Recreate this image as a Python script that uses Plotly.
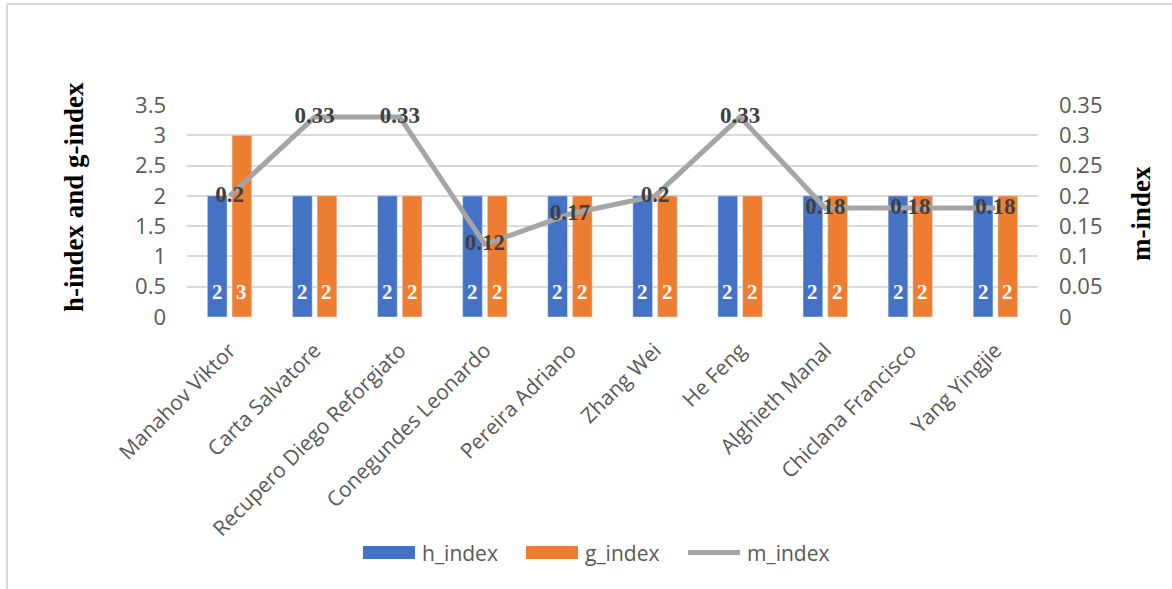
import plotly.graph_objects as go

authors = [
    "Manahov Viktor", "Carta Salvatore", "Recupero Diego Reforgiato",
    "Conegundes Leonardo", "Pereira Adriano", "Zhang Wei", "He Feng",
    "Alghieth Manal", "Chiclana Francisco", "Yang Yingjie",
]
h_index = [2, 2, 2, 2, 2, 2, 2, 2, 2, 2]
g_index = [3, 2, 2, 2, 2, 2, 2, 2, 2, 2]
m_index = [0.2, 0.33, 0.33, 0.12, 0.17, 0.2, 0.33, 0.18, 0.18, 0.18]

W, H = 1172, 589
L, R, T, B = 187, 134, 105, 272
px_w = W - L - R
px_h = H - T - B

BLUE = "#4472C4"
ORANGE = "#ED7D31"
GRAY = "#A5A5A5"
TICK = "#595959"
SERIF = "Liberation Serif, Times New Roman, serif"
SANS = "Open Sans, Calibri, sans-serif"
BARGAP = 0.42


def px_x(x):
    return (x - L) / px_w


def px_y(y):
    return (H - B - y) / px_h


fig = go.Figure()
fig.add_trace(go.Bar(x=authors, y=h_index, name="h_index", marker_color=BLUE))
fig.add_trace(go.Bar(x=authors, y=g_index, name="g_index", marker_color=ORANGE))
fig.add_trace(go.Scatter(
    x=authors, y=m_index, name="m_index", yaxis="y2",
    mode="lines+text", line=dict(color=GRAY, width=5),
    text=[f"<b>{v:g}</b>" for v in m_index], textposition="middle center",
    textfont=dict(family=SERIF, size=23, color="#404040"),
    cliponaxis=False,
))

# value labels sitting near the base of each bar
slot_offset = px_w / len(authors) * (1 - BARGAP) / 4
annotations = []
for series, sign in ((h_index, -1), (g_index, 1)):
    for name, v in zip(authors, series):
        annotations.append(dict(
            x=name, y=0, xref="x", yref="y", text=f"<b>{v}</b>",
            showarrow=False, xshift=sign * slot_offset, yshift=25,
            font=dict(family=SERIF, size=21, color="white"),
        ))

# axis titles
annotations.append(dict(
    x=px_x(74), y=px_y(197), xref="paper", yref="paper",
    text="<b>h-index and g-index</b>", textangle=-90, showarrow=False,
    xanchor="center", yanchor="middle",
    font=dict(family=SERIF, size=27, color="black"),
))
annotations.append(dict(
    x=px_x(1141), y=px_y(214), xref="paper", yref="paper",
    text="<b>m-index</b>", textangle=-90, showarrow=False,
    xanchor="center", yanchor="middle",
    font=dict(family=SERIF, size=27, color="black"),
))

# legend row
legend_items = [
    ("h_index", BLUE, "bar", 363),
    ("g_index", ORANGE, "bar", 526),
    ("m_index", GRAY, "line", 688),
]
shapes = []
for label, color, kind, x0 in legend_items:
    if kind == "bar":
        shapes.append(dict(
            type="rect", xref="paper", yref="paper",
            x0=px_x(x0), x1=px_x(x0 + 52), y0=px_y(559), y1=px_y(546),
            line=dict(width=0), fillcolor=color,
        ))
    else:
        shapes.append(dict(
            type="line", xref="paper", yref="paper",
            x0=px_x(x0), x1=px_x(x0 + 52), y0=px_y(552.5), y1=px_y(552.5),
            line=dict(width=5, color=color),
        ))
    annotations.append(dict(
        x=px_x(x0 + 57), y=px_y(553), xref="paper", yref="paper",
        xanchor="left", yanchor="middle", text=label, showarrow=False,
        font=dict(family=SANS, size=21, color=TICK),
    ))

# outer frame (top and left edges)
shapes.append(dict(type="line", xref="paper", yref="paper",
                   x0=px_x(7), x1=px_x(W), y0=px_y(4), y1=px_y(4),
                   line=dict(color="#D9D9D9", width=2)))
shapes.append(dict(type="line", xref="paper", yref="paper",
                   x0=px_x(7), x1=px_x(7), y0=px_y(4), y1=px_y(H),
                   line=dict(color="#D9D9D9", width=2)))

fig.update_layout(
    width=W, height=H,
    margin=dict(l=L, r=R, t=T, b=B, autoexpand=False),
    paper_bgcolor="white", plot_bgcolor="white",
    barmode="group", bargap=BARGAP, bargroupgap=0.2,
    font=dict(family=SANS, color=TICK, size=21),
    showlegend=False,
    xaxis=dict(
        tickangle=-45, tickfont=dict(family=SANS, size=21, color=TICK),
        showgrid=False, showline=False, ticks="", automargin=False,
        ticklabelstandoff=16,
    ),
    yaxis=dict(
        range=[0, 3.5], dtick=0.5, showgrid=True, gridcolor="#D9D9D9",
        gridwidth=1.5, zeroline=False, showline=False, ticks="",
        tickfont=dict(family=SANS, size=22, color=TICK),
        ticklabelstandoff=20, automargin=False,
    ),
    yaxis2=dict(
        range=[0, 0.35], dtick=0.05, overlaying="y", side="right",
        showgrid=False, zeroline=False, showline=False, ticks="",
        tickfont=dict(family=SANS, size=22, color=TICK),
        ticklabelstandoff=20, automargin=False,
    ),
    annotations=annotations,
    shapes=shapes,
)

fig.write_html("out.html")
